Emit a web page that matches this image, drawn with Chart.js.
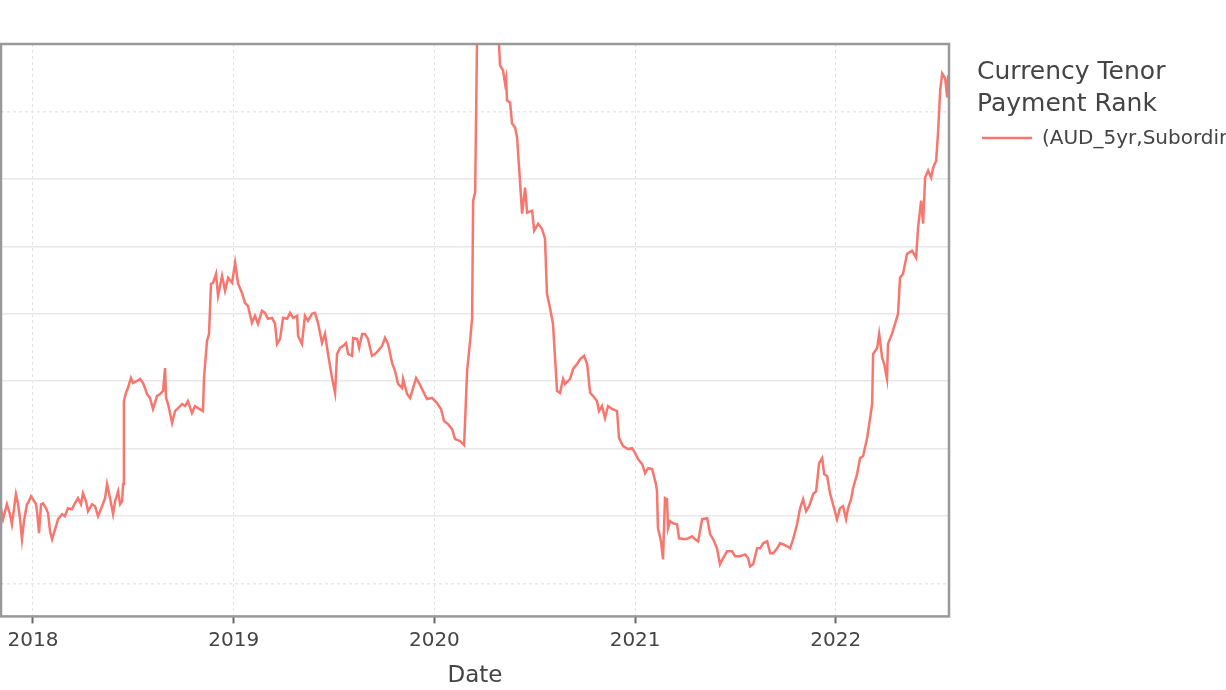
<!DOCTYPE html>
<html>
<head>
<meta charset="utf-8">
<script src="https://cdn.jsdelivr.net/npm/chart.js@4"></script>
<style>
    body { margin: 0; background: #fff; }
    #wrap { width: 1226px; height: 690px; }
</style>
</head>
<body>
<div id="wrap"><canvas id="spreadChart" width="1226" height="690"></canvas></div>
<script>
// decimal years and spread level
const dates = [
    2017.836, 2017.851, 2017.870, 2017.885, 2017.895, 2017.915, 2017.925, 2017.935, 2017.945, 2017.955,
    2017.970, 2017.975, 2017.990, 2018.000, 2018.015, 2018.020, 2018.030, 2018.040, 2018.050, 2018.065,
    2018.075, 2018.085, 2018.095, 2018.110, 2018.125, 2018.145, 2018.159, 2018.174, 2018.194, 2018.209,
    2018.224, 2018.239, 2018.249, 2018.264, 2018.274, 2018.294, 2018.309, 2018.324, 2018.344, 2018.359,
    2018.369, 2018.384, 2018.399, 2018.409, 2018.424, 2018.434, 2018.444, 2018.449, 2018.453, 2018.463,
    2018.473, 2018.488, 2018.498, 2018.518, 2018.533, 2018.548, 2018.558, 2018.568, 2018.583, 2018.598,
    2018.618, 2018.633, 2018.648, 2018.658, 2018.663, 2018.673, 2018.693, 2018.708, 2018.723, 2018.743,
    2018.758, 2018.772, 2018.792, 2018.807, 2018.822, 2018.847, 2018.852, 2018.867, 2018.877, 2018.887,
    2018.897, 2018.912, 2018.922, 2018.942, 2018.957, 2018.972, 2018.992, 2019.007, 2019.022, 2019.041,
    2019.056, 2019.071, 2019.091, 2019.106, 2019.121, 2019.141, 2019.156, 2019.171, 2019.191, 2019.206,
    2019.216, 2019.231, 2019.246, 2019.266, 2019.281, 2019.296, 2019.316, 2019.321, 2019.340, 2019.355,
    2019.370, 2019.390, 2019.405, 2019.420, 2019.440, 2019.455, 2019.470, 2019.490, 2019.505, 2019.515,
    2019.530, 2019.545, 2019.560, 2019.570, 2019.590, 2019.595, 2019.615, 2019.625, 2019.640, 2019.654,
    2019.669, 2019.689, 2019.704, 2019.719, 2019.739, 2019.754, 2019.769, 2019.789, 2019.804, 2019.819,
    2019.839, 2019.844, 2019.864, 2019.879, 2019.894, 2019.909, 2019.924, 2019.943, 2019.963, 2019.988,
    2020.013, 2020.033, 2020.048, 2020.068, 2020.088, 2020.103, 2020.128, 2020.148, 2020.163, 2020.178,
    2020.188, 2020.193, 2020.203, 2020.213, 2020.227, 2020.257, 2020.287, 2020.312, 2020.322, 2020.327,
    2020.342, 2020.352, 2020.357, 2020.362, 2020.377, 2020.387, 2020.402, 2020.412, 2020.422, 2020.437,
    2020.452, 2020.462, 2020.487, 2020.497, 2020.517, 2020.536, 2020.551, 2020.561, 2020.576, 2020.591,
    2020.611, 2020.626, 2020.641, 2020.651, 2020.676, 2020.691, 2020.711, 2020.726, 2020.746, 2020.761,
    2020.776, 2020.791, 2020.810, 2020.820, 2020.835, 2020.850, 2020.865, 2020.885, 2020.910, 2020.920,
    2020.940, 2020.965, 2020.985, 2021.000, 2021.015, 2021.035, 2021.050, 2021.065, 2021.085, 2021.104,
    2021.109, 2021.114, 2021.129, 2021.139, 2021.149, 2021.159, 2021.164, 2021.174, 2021.189, 2021.209,
    2021.219, 2021.249, 2021.264, 2021.284, 2021.299, 2021.314, 2021.334, 2021.359, 2021.374, 2021.389,
    2021.408, 2021.423, 2021.438, 2021.458, 2021.483, 2021.498, 2021.523, 2021.548, 2021.563, 2021.573,
    2021.588, 2021.608, 2021.623, 2021.638, 2021.658, 2021.673, 2021.688, 2021.708, 2021.722, 2021.737,
    2021.757, 2021.772, 2021.787, 2021.807, 2021.822, 2021.837, 2021.852, 2021.867, 2021.887, 2021.902,
    2021.917, 2021.932, 2021.942, 2021.957, 2021.971, 2021.986, 2022.006, 2022.021, 2022.036, 2022.051,
    2022.061, 2022.076, 2022.086, 2022.106, 2022.121, 2022.136, 2022.156, 2022.171, 2022.181, 2022.186,
    2022.206, 2022.216, 2022.231, 2022.241, 2022.255, 2022.260, 2022.280, 2022.295, 2022.310, 2022.320,
    2022.335, 2022.355, 2022.380, 2022.400, 2022.410, 2022.425, 2022.435, 2022.445, 2022.460, 2022.475,
    2022.485, 2022.500, 2022.510, 2022.520, 2022.530, 2022.545, 2022.555, 2022.560, 2022.565
];
const spread = [
    158.7, 147.6, 158.7, 151.3, 143.8, 166.1, 159.4, 148.3, 132.7, 146.1,
    158.7, 159.4, 164.6, 162.4, 158.7, 153.5, 137.2, 158.7, 159.4, 155.7,
    152.0, 138.6, 132.7, 140.1, 147.6, 151.3, 149.8, 155.7, 155.0, 159.4,
    163.2, 158.7, 166.9, 160.9, 153.5, 158.7, 157.2, 149.8, 157.2, 163.2,
    173.6, 163.2, 151.3, 160.9, 168.4, 158.7, 160.9, 173.6, 235.2, 241.2,
    244.9, 252.3, 248.6, 250.1, 251.6, 248.6, 244.9, 240.4, 237.5, 229.3,
    238.9, 240.4, 242.7, 259.7, 237.5, 233.0, 218.9, 227.8, 230.0, 233.0,
    231.5, 235.2, 226.3, 231.5, 230.0, 227.8, 252.3, 279.8, 285.0, 322.2,
    322.9, 329.6, 313.2, 328.1, 317.0, 326.6, 322.9, 337.8, 322.2, 315.5,
    308.0, 305.8, 293.2, 298.4, 292.4, 302.1, 300.6, 296.2, 296.9, 292.4,
    277.6, 281.3, 296.9, 296.2, 300.6, 296.9, 298.4, 283.5, 277.6, 298.4,
    294.7, 299.9, 300.6, 293.2, 278.3, 285.0, 270.1, 252.3, 241.2, 270.1,
    274.6, 276.1, 278.3, 270.1, 268.7, 282.0, 281.3, 274.6, 285.0, 285.0,
    281.3, 268.7, 270.1, 272.4, 276.1, 282.0, 277.6, 263.5, 257.5, 247.9,
    244.9, 251.6, 240.4, 237.5, 244.9, 252.3, 248.6, 242.7, 236.7, 237.5,
    233.7, 229.3, 220.4, 218.1, 214.4, 207.0, 205.5, 202.5, 257.5, 279.8,
    296.9, 383.8, 389.8, 510.1, 570.0, 590.0, 575.0, 520.0, 499.0, 484.1,
    480.4, 470.8, 474.5, 458.1, 456.6, 441.0, 438.1, 430.6, 408.3, 374.2,
    393.5, 374.9, 376.4, 361.5, 366.7, 363.0, 355.6, 314.7, 304.3, 292.4,
    242.7, 241.2, 251.6, 247.9, 251.6, 259.0, 262.7, 266.4, 268.7, 262.7,
    241.2, 238.9, 235.2, 227.8, 231.5, 222.6, 231.5, 229.3, 227.8, 207.7,
    201.8, 199.6, 200.3, 196.6, 192.1, 188.4, 181.7, 185.4, 184.7, 173.6,
    168.4, 140.9, 131.2, 117.8, 163.2, 162.4, 140.9, 146.1, 144.6, 143.8,
    133.4, 132.7, 133.4, 134.9, 132.7, 131.2, 147.6, 148.3, 136.4, 132.7,
    126.0, 114.1, 118.6, 123.8, 123.8, 120.1, 120.1, 121.5, 118.6, 112.6,
    114.1, 126.0, 126.0, 129.7, 131.2, 122.3, 122.3, 126.0, 129.7, 129.0,
    127.5, 126.0, 132.7, 143.8, 155.7, 162.4, 153.5, 157.2, 166.1, 168.4,
    189.2, 192.9, 181.0, 179.5, 166.9, 158.7, 147.6, 155.7, 157.2, 147.6,
    155.7, 162.4, 170.6, 181.0, 192.9, 194.4, 207.7, 222.6, 233.0, 270.1,
    274.6, 285.0, 267.2, 262.7, 251.6, 277.6, 285.0, 292.4, 299.9, 326.6,
    329.6, 344.4, 346.7, 341.5, 363.8, 383.8, 366.7, 400.9, 406.1, 400.9,
    408.3, 413.5, 435.8, 465.6, 478.2, 474.5, 460.4, 476.7, 458.1
];
const yearTicks = [2018, 2019, 2020, 2021, 2022];
const spreadGrid = [100, 150, 200, 250, 300, 350, 400, 450];
const dottedGrid = [100, 450];
const seriesName = '(AUD_5yr,Subordinated)';
const legendTitle = ['Currency Tenor', 'Payment Rank'];
const lineColor = '#F8766D';

// frame round the plot area plus the legend on the right
const framePlugin = {
    id: 'frame',
    afterDraw(chart) {
        const { ctx, chartArea } = chart;
        ctx.save();
        ctx.strokeStyle = '#999';
        ctx.lineWidth = 2.5;
        ctx.strokeRect(chartArea.left, chartArea.top, chartArea.right - chartArea.left, chartArea.bottom - chartArea.top);

        ctx.fillStyle = '#444';
        ctx.textBaseline = 'middle';
        ctx.font = '25px "DejaVu Sans"';
        ctx.fillText(legendTitle[0], 977, 72);
        ctx.fillText(legendTitle[1], 977, 104);

        ctx.strokeStyle = lineColor;
        ctx.lineWidth = 2.5;
        ctx.beginPath();
        ctx.moveTo(982, 138);
        ctx.lineTo(1032, 138);
        ctx.stroke();
        ctx.font = '20px "DejaVu Sans"';
        ctx.fillText(seriesName, 1042, 139);
        ctx.restore();
    }
};

const ctx = document.getElementById('spreadChart').getContext('2d');
new Chart(ctx, {
    type: 'line',
    data: {
        datasets: [{
            label: seriesName,
            data: dates.map((d, i) => ({ x: d, y: spread[i] })),
            borderColor: lineColor,
            borderWidth: 2.5,
            pointRadius: 0,
            tension: 0,
            fill: false
        }]
    },
    options: {
        responsive: false,
        animation: false,
        devicePixelRatio: 1,
        layout: { padding: { left: 1, right: 277, top: 44, bottom: 0 } },
        plugins: {
            legend: { display: false },
            tooltip: { enabled: false }
        },
        scales: {
            x: {
                type: 'linear',
                min: 2017.8406,
                max: 2022.564,
                afterBuildTicks: axis => { axis.ticks = yearTicks.map(v => ({ value: v })); },
                ticks: {
                    callback: v => String(v),
                    color: '#444',
                    font: { family: 'DejaVu Sans', size: 20 },
                    padding: 5,
                    maxRotation: 0
                },
                grid: {
                    color: '#e3e3e3',
                    lineWidth: 1,
                    drawTicks: true,
                    tickLength: 7,
                    tickColor: '#666',
                    tickWidth: 2
                },
                border: { display: false, dash: [3, 3] },
                title: {
                    display: true,
                    text: 'Date',
                    color: '#444',
                    font: { family: 'DejaVu Sans', size: 23 },
                    padding: { top: 5, bottom: 0 }
                }
            },
            y: {
                min: 75.5,
                max: 500,
                afterBuildTicks: axis => { axis.ticks = spreadGrid.map(v => ({ value: v })); },
                afterFit: axis => { axis.width = 0; },
                ticks: { display: false },
                grid: {
                    color: '#e8e8e8',
                    lineWidth: 1.5,
                    drawTicks: false
                },
                border: {
                    display: false,
                    dash: c => (c.tick && dottedGrid.includes(c.tick.value)) ? [3, 3] : []
                }
            }
        }
    },
    plugins: [framePlugin]
});
</script>
</body>
</html>
